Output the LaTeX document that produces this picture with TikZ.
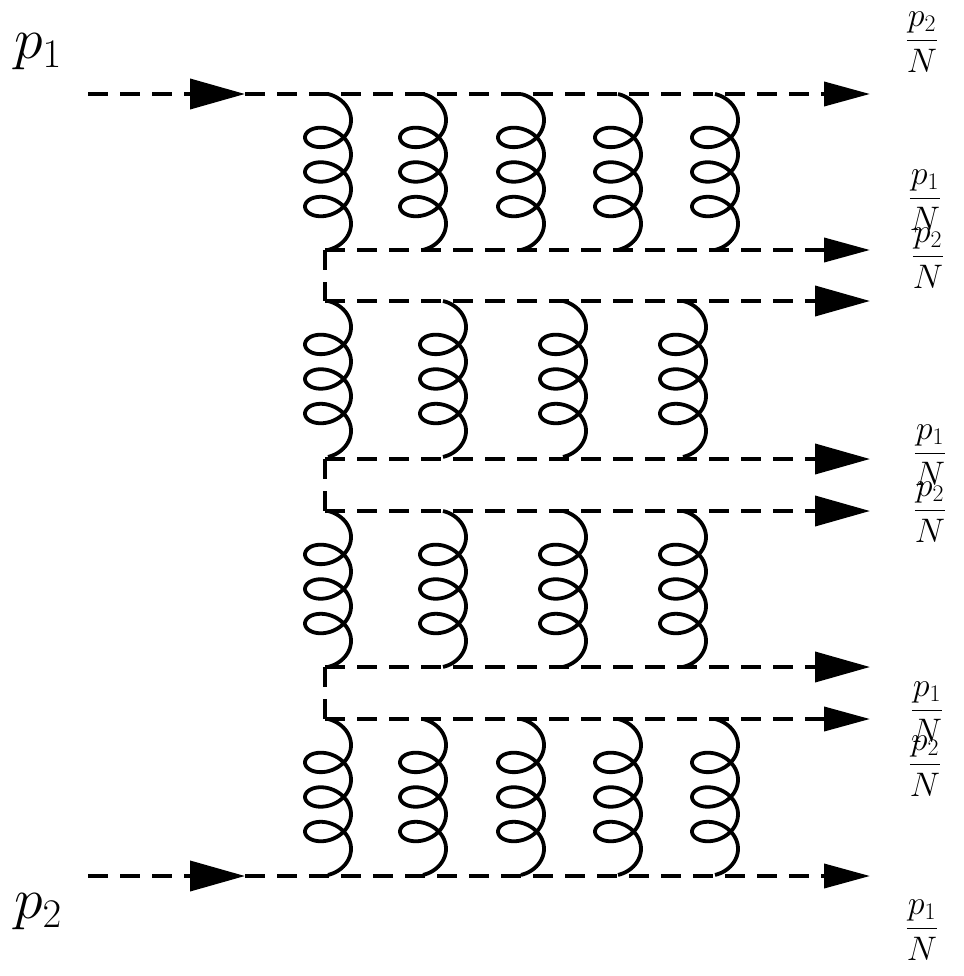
\documentclass[tikz,border=0pt]{standalone}
\usepackage{fix-cm}
\usetikzlibrary{arrows.meta}
\begin{document}
\begin{tikzpicture}[x=1pt,y=-1pt,line width=3.8pt,
  scal/.style={dash pattern=on 20pt off 12pt},
  tip/.style={-{Triangle[length=46pt,width=24pt]}},
  bigtip/.style={-{Triangle[length=55pt,width=30pt]}},
  lbl/.style={font=\fontsize{58}{64}\selectfont},
  frac/.style={font=\fontsize{34}{38}\selectfont,inner sep=0pt}]
\useasboundingbox (0,0) rectangle (963,976);
\newcommand\gluonat[2]{\draw[line join=round] plot[variable=\t,domain=0:1260,samples=240,smooth]
  ({#1+3+23*sin(\t)},{#2+5.5*rad(\t)+17.5*(1-cos(\t))});}
% incoming
\coordinate (a1) at (88,94); \coordinate (m1) at (245,94);
\coordinate (a2) at (88,876); \coordinate (m2) at (245,876);
\draw[scal,bigtip] (a1) -- (m1);
\draw[scal,bigtip] (a2) -- (m2);
\node[lbl] (p1) at (38,52) {$p_1$};
\node[lbl] (p2) at (38,912) {$p_2$};
% outgoing lines
\foreach \y/\s/\n in {94/m1/1,876/m2/8}{
  \coordinate (e\n) at (870,\y);
  \draw[scal,tip] (\s) -- (e\n);}
\foreach \y/\n/\st in {250/2/tip,301/3/bigtip,459/4/bigtip,511/5/bigtip,667/6/bigtip,719/7/tip}{
  \coordinate (s\n) at (325,\y); \coordinate (e\n) at (870,\y);
  \draw[scal,\st] (s\n) -- (e\n);}
\draw[scal] (s2) -- (s3); \draw[scal] (s4) -- (s5); \draw[scal] (s6) -- (s7);
% gluons
\foreach \x in {325,420,518,615,712}{
  \gluonat{\x}{94}
  \gluonat{\x}{719}}
\foreach \x in {325,440,560,680}{
  \gluonat{\x}{301}
  \gluonat{\x}{511}}
% labels
\foreach \x/\y/\k/\n in {922/42/2/a,925/200/1/b,928/258/2/c,930/455/1/d,930/512/2/e,927/712/1/f,925/766/2/g,922/930/1/h}
  \node[frac] (f\n) at (\x,\y) {$\displaystyle\frac{p_\k}{N}$};
\end{tikzpicture}
\end{document}
